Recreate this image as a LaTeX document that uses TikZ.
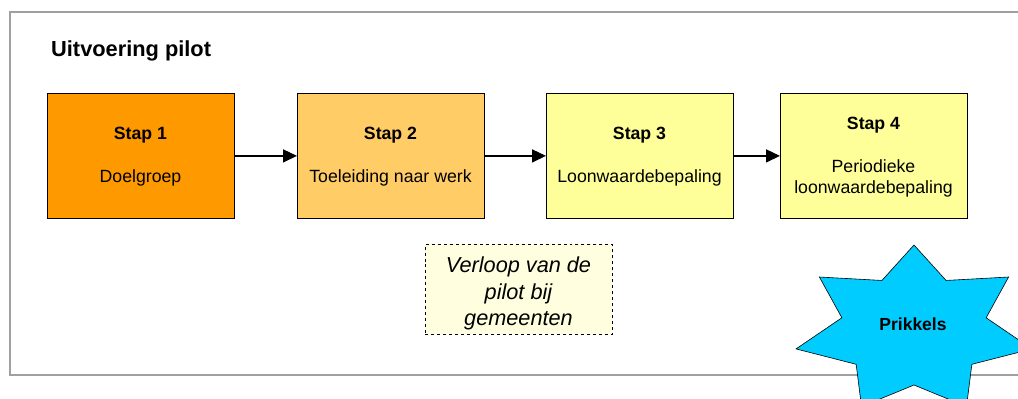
\documentclass[tikz,border=0pt]{standalone}
\usepackage{fontspec}
\setmainfont{Liberation Sans}
\usetikzlibrary{arrows.meta}
\definecolor{cone}{HTML}{FF9900}
\definecolor{ctwo}{HTML}{FFCC66}
\definecolor{cthree}{HTML}{FFFF99}
\definecolor{cnote}{HTML}{FFFFE0}
\definecolor{cstar}{HTML}{00CCFF}
\definecolor{cframe}{HTML}{A0A0A0}
\begin{document}
\begin{tikzpicture}[x=1bp,y=-1bp,
  stepbox/.style={draw=black, line width=0.8bp, minimum width=187bp, minimum height=125bp, inner sep=0pt, anchor=north west},
  steptitle/.style={font=\fontsize{17.7bp}{21bp}\selectfont\bfseries, inner sep=0pt, anchor=base},
  stepdesc/.style={font=\fontsize{17.7bp}{21bp}\selectfont, inner sep=0pt, anchor=base},
  flow/.style={line width=1.5bp, -{Triangle[length=14bp,width=13bp]}},
  notetext/.style={font=\fontsize{21.7bp}{26bp}\selectfont\itshape, inner sep=0pt, anchor=base}]
\useasboundingbox (0,0) rectangle (1018,398);
\clip (0,0) rectangle (1018,398);
% frame
\draw[cframe, line width=1.5bp] (1030,12) -- (10,12) -- (10,375) -- (1030,375);
% title
\node[font=\fontsize{21.8bp}{26bp}\selectfont\bfseries, inner sep=0pt, anchor=base west] (title) at (51,56) {Uitvoering pilot};
% boxes
\node[stepbox, fill=cone]   (b1) at (47,93) {};
\node[stepbox, fill=ctwo]   (b2) at (297,93) {};
\node[stepbox, fill=cthree] (b3) at (546,93) {};
\node[stepbox, fill=cthree] (b4) at (780,93) {};
% texts
\node[steptitle] (s1) at (140.5,139.5) {Stap 1};
\node[stepdesc]  (d1) at (140.5,182.5) {Doelgroep};
\node[steptitle] (s2) at (390.5,139.5) {Stap 2};
\node[stepdesc]  (d2) at (390.5,182.5) {Toeleiding naar werk};
\node[steptitle] (s3) at (639.5,139.5) {Stap 3};
\node[stepdesc]  (d3) at (639.5,182.5) {Loonwaardebepaling};
\node[steptitle] (s4) at (873.5,129) {Stap 4};
\node[stepdesc]  (d4a) at (873.5,172) {Periodieke};
\node[stepdesc]  (d4b) at (873.5,193) {loonwaardebepaling};
% arrows
\draw[flow] (b1.east) -- (b2.west);
\draw[flow] (b2.east) -- (b3.west);
\draw[flow] (b3.east) -- (b4.west);
% note
\node[draw=black, dashed, line width=0.6bp, fill=cnote, minimum width=187bp, minimum height=90bp, inner sep=0pt, anchor=north west] (note) at (425,244) {};
\node[notetext] (n1) at (518.5,272) {Verloop van de};
\node[notetext] (n2) at (518.5,299) {pilot bij};
\node[notetext] (n3) at (518.5,325) {gemeenten};
% star
\path[draw=black, line width=0.6bp, fill=cstar] (914,245)
  \foreach \i in {1,...,13}{
    -- ({914+ifthenelse(mod(\i,2)==0,121,74)*cos(90+\i*360/14)},
        {330-ifthenelse(mod(\i,2)==0,85,55)*sin(90+\i*360/14)})
  } -- cycle;
\node[font=\fontsize{17.5bp}{21bp}\selectfont\bfseries, inner sep=0pt] (prik) at (913,324) {Prikkels};
\end{tikzpicture}
\end{document}
